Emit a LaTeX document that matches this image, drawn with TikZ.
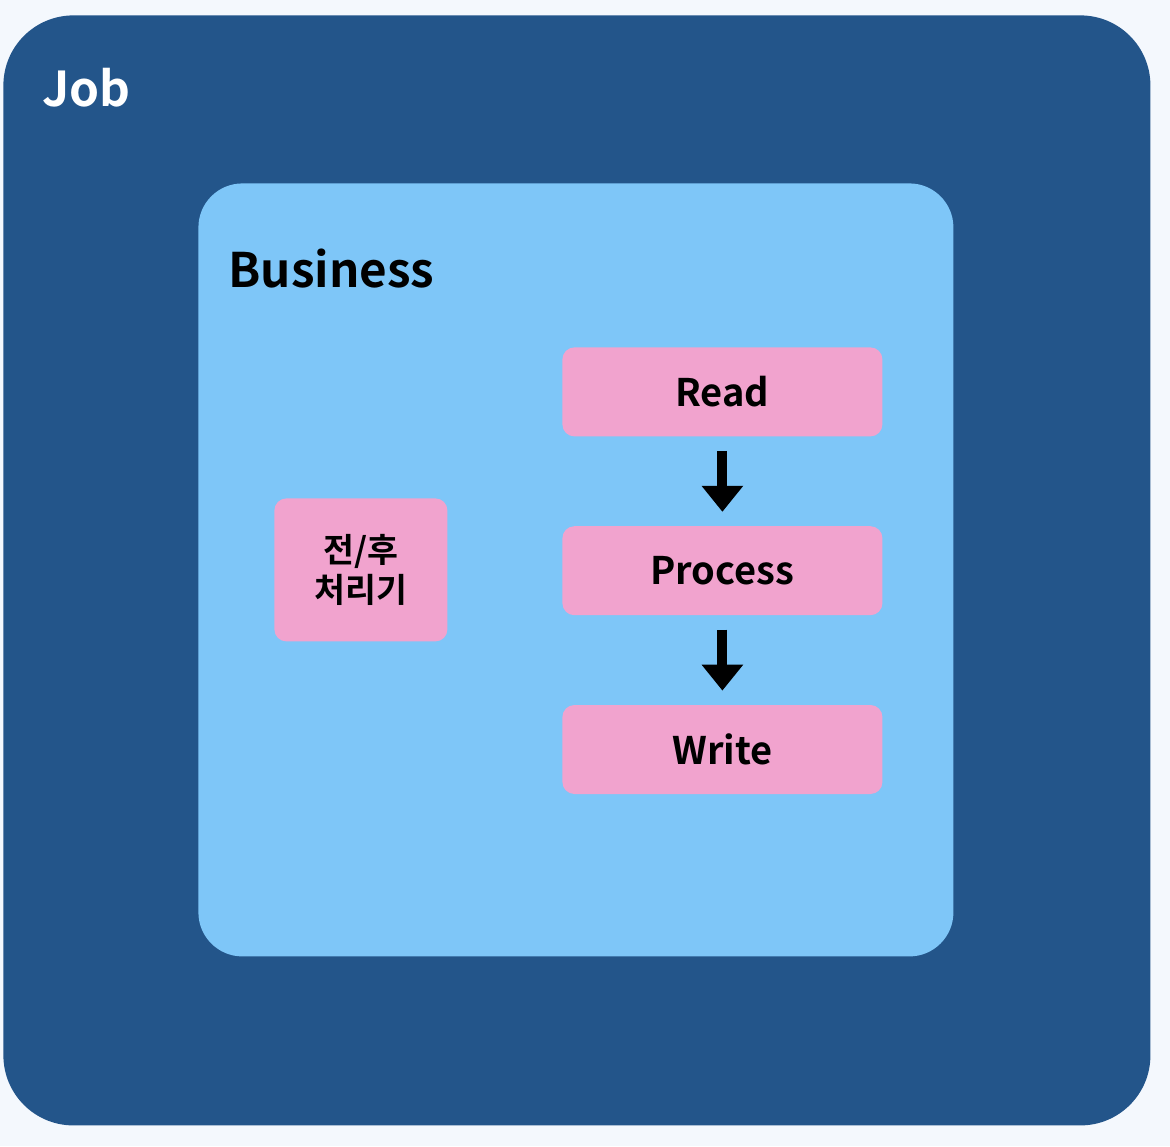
\documentclass[tikz,border=0pt]{standalone}
\usepackage{fontspec}
\setmainfont{Noto Sans CJK KR}[BoldFont={* Bold}]
\usepackage{tikz}
\usetikzlibrary{positioning,arrows.meta}
\definecolor{jobblue}{HTML}{23558A}
\definecolor{bizblue}{HTML}{7EC6F8}
\definecolor{steppink}{HTML}{F1A3CE}
\definecolor{pagebg}{HTML}{F4F8FD}

\begin{document}
\begin{tikzpicture}[
      x=0.5pt, y=-0.5pt,
      font=\bfseries,
      rahmen/.style={fill=jobblue, rounded corners=35pt, inner sep=0pt},
      bereich/.style={fill=bizblue, rounded corners=22pt, inner sep=0pt},
      schritt/.style={fill=steppink, rounded corners=6pt, align=center,
                      minimum width=160pt, minimum height=44.5pt, inner sep=0pt,
                      font=\fontsize{19}{22}\bfseries},
      pfeil/.style={-{Triangle[width=20pt, length=13pt]}, line width=5pt,
                    shorten <=7pt, shorten >=7pt},
      node distance=44.5pt]
    \fill[pagebg] (0,0) rectangle (1170,1146);
    \useasboundingbox (0,0) rectangle (1170,1146);
    % outer job frame
    \node[rahmen, minimum width=573.5pt, minimum height=555pt, anchor=north west] (job) at (3,15) {};
    \node[anchor=base west, text=white, font=\fontsize{24}{28}\bfseries, inner sep=0pt] (jobtxt) at (42,106) {Job};
    % business area
    \node[bereich, minimum width=377.5pt, minimum height=386.5pt, anchor=north west] (biz) at (198,183) {};
    \node[anchor=base west, font=\fontsize{23.8}{28}\bfseries, inner sep=0pt] (biztxt) at (228,287) {Business};
    % steps
    \node[schritt, anchor=north west] (read) at (562,347) {Read};
    \node[schritt, below=of read] (proc) {Process};
    \node[schritt, below=of proc] (write) {Write};
    \node[schritt, minimum width=86.5pt, minimum height=71.5pt, anchor=north west,
          font=\fontsize{16.8}{20}\bfseries] (prepost) at (274,498) {전/후\\처리기};
    \draw[pfeil] (read) -- (proc);
    \draw[pfeil] (proc) -- (write);
\end{tikzpicture}
\end{document}
